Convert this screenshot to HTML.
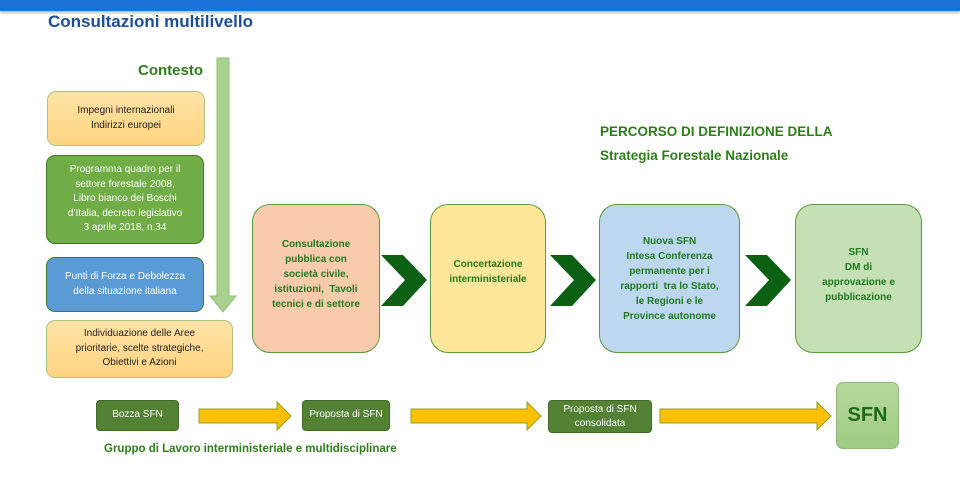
<!DOCTYPE html>
<html><head><meta charset="utf-8"><style>
*{margin:0;padding:0;box-sizing:border-box}
body{width:960px;height:493px;background:#fff;position:relative;overflow:hidden;font-family:"Liberation Sans",sans-serif}
.a{position:absolute}
.box{position:absolute;display:flex;align-items:center;justify-content:center;text-align:center;line-height:1.45}
.ctx{font-size:10px;border-radius:9px;color:#222}
.big{border:1.5px solid #5a9a3a;border-radius:18px;font-size:10px;font-weight:bold;color:#1f7a1f;line-height:1.5}
.bt{background:#548235;border:1.5px solid #3f6a26;border-radius:4px;color:#fff;font-size:10px}
</style></head><body>
<div class="a" style="left:0;top:0;width:960px;height:11px;background:#1a73d8;box-shadow:0 2px 3px #bbb"></div>
<div class="a" style="left:48px;top:12px;font-size:17px;font-weight:bold;color:#1f4e96">Consultazioni multilivello</div>
<div class="a" style="left:138px;top:62px;font-size:15px;font-weight:bold;color:#2e7d1a">Contesto</div>
<svg class="a" style="left:0;top:0" width="960" height="493">
<polygon points="217,58 229,58 229,296 236,296 223,312 210,296 217,296" fill="#a9d18e" stroke="#8fbf75" stroke-width="1"/>
<polygon points="381,255 403,255 427,280 403,306 381,306 405,280" fill="#0b6014"/>
<polygon points="550,255 572,255 596,280 572,306 550,306 574,280" fill="#0b6014"/>
<polygon points="745,255 767,255 791,280 767,306 745,306 769,280" fill="#0b6014"/>
<polygon points="199,409 277,409 277,402 291,416 277,430 277,423 199,423" fill="#ffc000" stroke="#8aa02a" stroke-width="1"/>
<polygon points="411,409 527,409 527,402 541,416 527,430 527,423 411,423" fill="#ffc000" stroke="#8aa02a" stroke-width="1"/>
<polygon points="660,409 817,409 817,402 831,416 817,430 817,423 660,423" fill="#ffc000" stroke="#8aa02a" stroke-width="1"/>
</svg>
<div class="box ctx" style="left:47px;top:91px;width:158px;height:55px;background:linear-gradient(#ffe3a6,#ffd480);border:1px solid #a8c47a">Impegni internazionali<br>Indirizzi europei</div>
<div class="box ctx" style="left:46px;top:155px;width:158px;height:89px;background:#70ad47;border:1.5px solid #3f7a24;color:#fff">Programma quadro per il<br>settore forestale 2008,<br>Libro bianco dei Boschi<br>d’Italia, decreto legislativo<br>3 aprile 2018, n.34</div>
<div class="box ctx" style="left:46px;top:257px;width:158px;height:55px;background:#5b9bd5;border:1.5px solid #3a7a3a;color:#fff">Punti di Forza e Debolezza<br>della situazione italiana</div>
<div class="box ctx" style="left:46px;top:320px;width:187px;height:58px;background:linear-gradient(#ffe3a6,#ffd480);border:1px solid #a8c47a">Individuazione delle Aree<br>prioritarie, scelte strategiche,<br>Obiettivi e Azioni</div>
<div class="a" style="left:600px;top:120px;font-size:13.5px;font-weight:bold;color:#2e7d1a;line-height:24px">PERCORSO DI DEFINIZIONE DELLA<br>Strategia Forestale Nazionale</div>
<div class="box big" style="left:252px;top:204px;width:128px;height:149px;background:#f8cbad;padding-bottom:8px">Consultazione<br>pubblica con<br>società civile,<br>istituzioni,&nbsp; Tavoli<br>tecnici e di settore</div>
<div class="box big" style="left:430px;top:204px;width:116px;height:149px;background:#ffe699;padding-bottom:14px">Concertazione<br>interministeriale</div>
<div class="box big" style="left:599px;top:204px;width:141px;height:149px;background:#bdd7ee">Nuova SFN<br>Intesa Conferenza<br>permanente per i<br>rapporti&nbsp; tra lo Stato,<br>le Regioni e le<br>Province autonome</div>
<div class="box big" style="left:795px;top:204px;width:127px;height:149px;background:#c5e0b4;padding-bottom:8px">SFN<br>DM di<br>approvazione e<br>pubblicazione</div>
<div class="box bt" style="left:96px;top:400px;width:83px;height:31px">Bozza SFN</div>
<div class="box bt" style="left:302px;top:400px;width:88px;height:31px">Proposta di SFN</div>
<div class="box bt" style="left:548px;top:400px;width:104px;height:33px;line-height:1.4">Proposta di SFN<br>consolidata</div>
<div class="box" style="left:836px;top:382px;width:63px;height:67px;background:linear-gradient(#b6d99c,#9fcb82);border:1px solid #8fb87a;border-radius:7px;font-size:20px;font-weight:bold;color:#1b6b1b">SFN</div>
<div class="a" style="left:104px;top:443px;font-size:11.5px;font-weight:bold;color:#2e7d1a">Gruppo di Lavoro interministeriale e multidisciplinare</div>
</body></html>
